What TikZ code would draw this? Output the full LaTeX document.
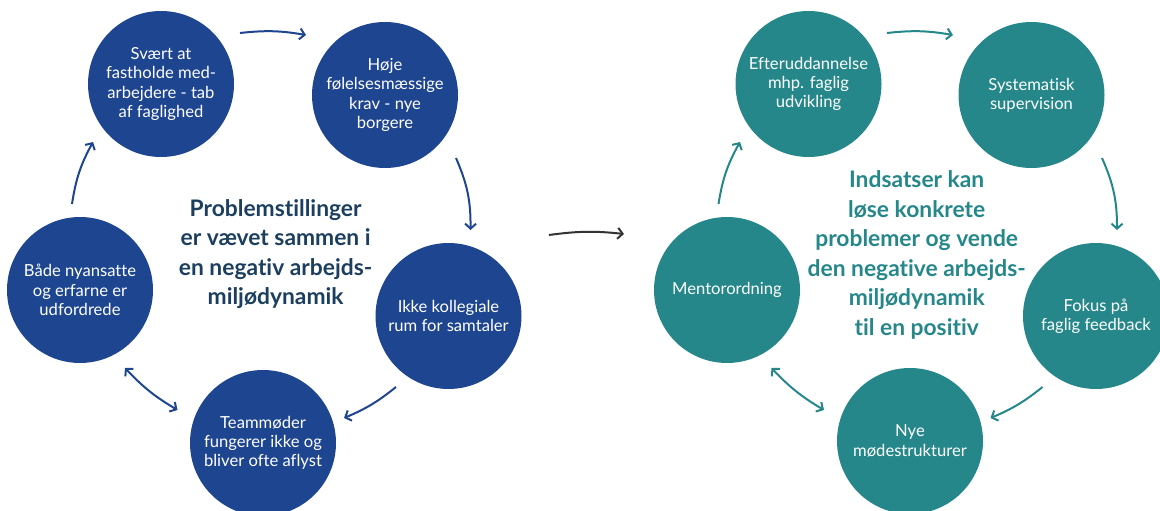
\documentclass[tikz,border=0pt]{standalone}
\usepackage{fontspec}
\setmainfont{Lato}[Ligatures=NoCommon]
\usetikzlibrary{arrows.meta}
\definecolor{pblue}{HTML}{1E4590}
\definecolor{pnavy}{HTML}{1C3F5F}
\definecolor{pteal}{HTML}{258789}
\definecolor{pdark}{HTML}{333333}
\begin{document}
\begin{tikzpicture}[x=1pt,y=-1pt,
  bub/.style={circle, minimum size=146pt, inner sep=0pt, text=white, align=center,
    font=\fontsize{16.6}{19.3}\selectfont},
  bluebub/.style={bub, fill=pblue},
  tealbub/.style={bub, fill=pteal},
  midtext/.style={align=center, font=\fontsize{22.8}{29.5}\selectfont\bfseries},
  arr/.style={line width=2pt, -{Straight Barb[length=5pt,width=11pt]}},
  darr/.style={line width=2pt, {Straight Barb[length=5pt,width=11pt]}-{Straight Barb[length=5pt,width=11pt]}},
]
\useasboundingbox (0,0) rectangle (1160,511);

% ---------- left cycle ----------
\node[bluebub] (l1) at (161,84) {Svært at\\fastholde med-\\arbejdere - tab\\af faglighed};
\node[bluebub] (l2) at (385,95) {Høje\\følelsesmæssige\\krav - nye\\borgere};
\node[bluebub] (l3) at (448.5,316) {Ikke kollegiale\\rum for samtaler};
\node[bluebub] (l4) at (263,443) {Teammøder\\fungerer ikke og\\bliver ofte aflyst};
\node[bluebub] (l5) at (80,290) {Både nyansatte\\og erfarne er\\udfordrede};
\node[midtext, text=pnavy] (lt) at (275.6,254) {Problemstillinger\\er vævet sammen i\\en negativ arbejds-\\miljødynamik};

\coordinate (la1) at (240,33);   \coordinate (la2) at (306,35);
\coordinate (lb1) at (456,158);  \coordinate (lb2) at (470.5,230);
\coordinate (lc1) at (396,387);  \coordinate (lc2) at (344,418);
\coordinate (ld1) at (125,368);  \coordinate (ld2) at (177.5,410);
\coordinate (le1) at (72,204);   \coordinate (le2) at (93,142);
\draw[arr, pblue] (la1) to[bend left=8] (la2);
\draw[arr, pblue] (lb1) to[bend left=12] (lb2);
\draw[arr, pblue] (lc1) to[bend left=8] (lc2);
\draw[darr, pblue] (ld1) to[bend right=8] (ld2);
\draw[arr, pblue] (le1) to[bend left=10] (le2);

% ---------- middle arrow ----------
\coordinate (m1) at (549,235); \coordinate (m2) at (624,234);
\draw[arr, pdark] (m1) to[bend left=7] (m2);

% ---------- right cycle ----------
\node[tealbub] (r1) at (808.5,84) {Efteruddannelse\\mhp. faglig\\udvikling};
\node[tealbub] (r2) at (1031.5,95) {Systematisk\\supervision};
\node[tealbub] (r3) at (1096,316) {Fokus på\\faglig feedback};
\node[tealbub] (r4) at (910,441) {Nye\\mødestrukturer};
\node[tealbub] (r5) at (727,290) {Mentorordning};
\node[midtext, text=pteal] (rt) at (916.7,255) {Indsatser kan\\løse konkrete\\problemer og vende\\den negative arbejds-\\miljødynamik\\til en positiv};

\coordinate (ra1) at (887,33);    \coordinate (ra2) at (953,35);
\coordinate (rb1) at (1102,158);  \coordinate (rb2) at (1117,230);
\coordinate (rc1) at (1042.5,387);\coordinate (rc2) at (990.5,418);
\coordinate (rd1) at (771.5,368); \coordinate (rd2) at (824,410);
\coordinate (re1) at (718.5,204); \coordinate (re2) at (740,142);
\draw[arr, pteal] (ra1) to[bend left=8] (ra2);
\draw[arr, pteal] (rb1) to[bend left=12] (rb2);
\draw[arr, pteal] (rc1) to[bend left=8] (rc2);
\draw[darr, pteal] (rd1) to[bend right=8] (rd2);
\draw[arr, pteal] (re1) to[bend left=10] (re2);
\end{tikzpicture}
\end{document}
